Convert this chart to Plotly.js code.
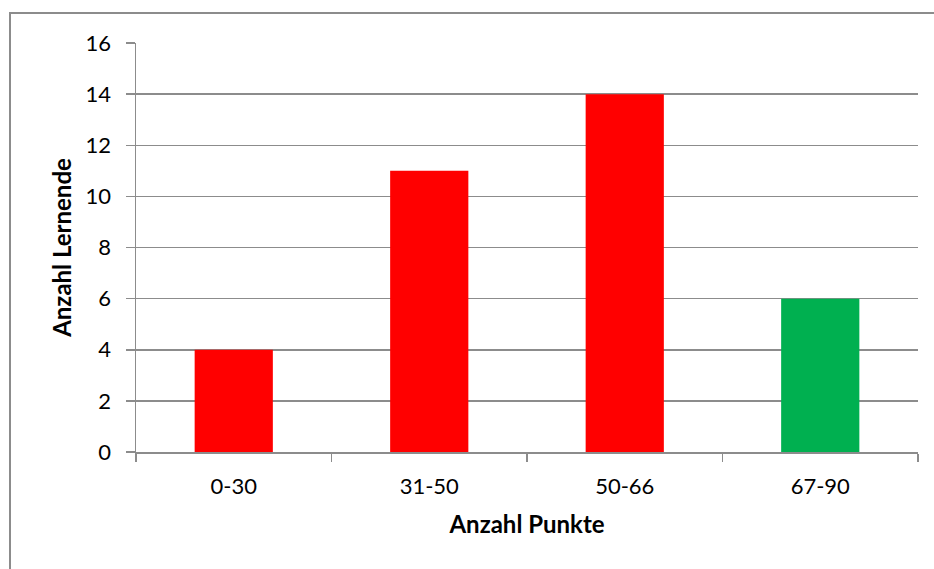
<!DOCTYPE html>
<html>
<head>
<meta charset="utf-8">
<script src="https://cdn.plot.ly/plotly-3.0.1.min.js"></script>
<style>
  html, body { margin: 0; padding: 0; background: #fff; }
  #chart { width: 934px; height: 569px; }
</style>
</head>
<body>
<div id="chart"></div>
<script>
// Point ranges and number of learners per range
const categories = ["0-30", "31-50", "50-66", "67-90"];
const learners = [4, 11, 14, 6];
const barColors = ["#FF0000", "#FF0000", "#FF0000", "#00B050"];
const yTicks = [0, 2, 4, 6, 8, 10, 12, 14, 16];

const gridGray = "#8c8c8c";
const fontFamily = "Lato, 'Open Sans', sans-serif";

const trace = {
  type: "bar",
  x: categories,
  y: learners,
  marker: { color: barColors, line: { width: 0 } },
  hoverinfo: "x+y"
};

const layout = {
  width: 934,
  height: 569,
  margin: { l: 136, r: 16, t: 43, b: 117 },
  paper_bgcolor: "#ffffff",
  plot_bgcolor: "#ffffff",
  bargap: 0.6,
  showlegend: false,
  font: { family: fontFamily, color: "#000000", size: 22 },
  xaxis: {
    type: "category",
    showgrid: false,
    showline: true,
    linecolor: gridGray,
    linewidth: 1.5,
    ticks: "outside",
    tickson: "boundaries",
    ticklen: 8,
    tickwidth: 1.5,
    tickcolor: gridGray,
    ticklabelstandoff: 14,
    tickfont: { family: fontFamily, size: 22 },
    title: {
      text: "<b>Anzahl Punkte</b>",
      font: { family: fontFamily, size: 24 },
      standoff: 18
    }
  },
  yaxis: {
    range: [0, 16],
    tickvals: yTicks,
    showgrid: true,
    gridcolor: gridGray,
    gridwidth: 1.5,
    zeroline: false,
    showline: true,
    linecolor: gridGray,
    linewidth: 1.5,
    ticks: "outside",
    ticklen: 9,
    tickwidth: 1.5,
    tickcolor: gridGray,
    ticklabelstandoff: 10,
    tickfont: { family: fontFamily, size: 22 },
    title: {
      text: "<b>Anzahl Lernende</b>",
      font: { family: fontFamily, size: 24 },
      standoff: 7
    }
  },
  shapes: [
    {
      // chart frame, open to the right and bottom edges of the canvas
      type: "rect",
      xref: "paper",
      yref: "paper",
      x0: (10 - 136) / 782,
      x1: 1.2,
      y0: -0.5,
      y1: (452 - 13) / 409,
      line: { color: "#8c8c8c", width: 2 },
      fillcolor: "rgba(0,0,0,0)",
      layer: "below"
    }
  ]
};

Plotly.newPlot("chart", [trace], layout, { displayModeBar: false, staticPlot: true });
</script>
</body>
</html>
